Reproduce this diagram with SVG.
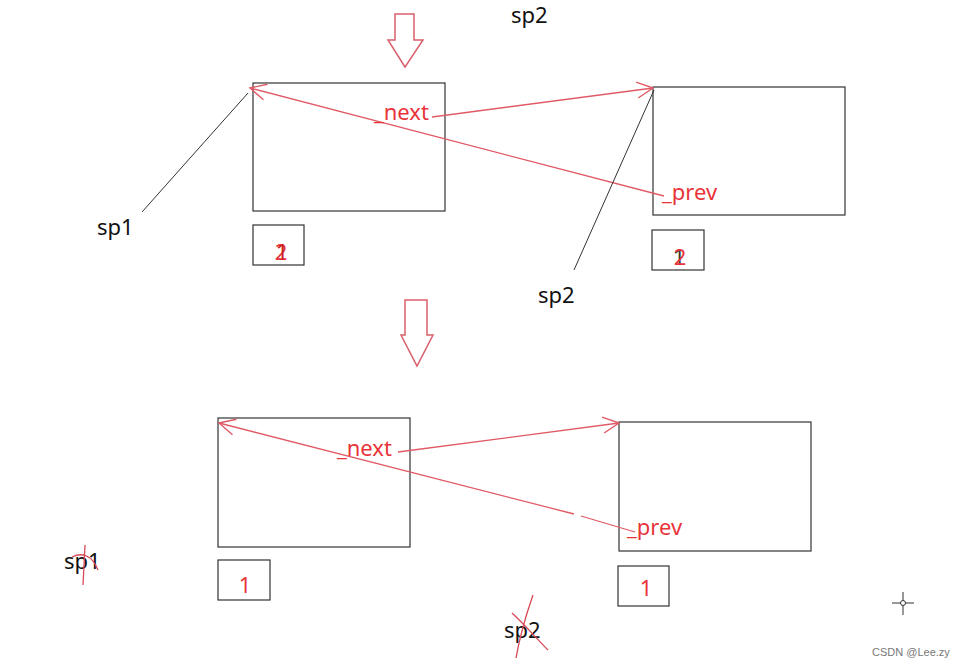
<svg xmlns="http://www.w3.org/2000/svg" width="963" height="668" viewBox="0 0 963 668">
<defs>
<style>
.box{fill:none;stroke:#333;stroke-width:1.2}
.lbl{font-family:"Noto Sans","Open Sans",sans-serif;font-size:22px;fill:#111}
.rlbl{font-family:"Noto Sans","Open Sans",sans-serif;font-size:22px;fill:#e8333a}
.num{font-family:"Noto Sans","Open Sans",sans-serif;font-size:22px;fill:#e8333a;text-anchor:middle}
.rl{fill:none;stroke:#e05a66;stroke-width:1.3}
.bl{fill:none;stroke:#333;stroke-width:1}
.big{fill:none;stroke:#d9606c;stroke-width:1.5}
.scr{fill:none;stroke:#d84a58;stroke-width:1.3}
</style>
<marker id="ah" viewBox="0 0 20 20" refX="18" refY="10" markerWidth="20" markerHeight="20" markerUnits="userSpaceOnUse" orient="auto">
<path d="M2,2 L18,10 L2,18" fill="none" stroke="#e05a66" stroke-width="1.4"/>
</marker>
</defs>
<rect width="963" height="668" fill="#fff"/>

<g id="arrow-top"><path class="big" d="M395,14 H414 V40 H423 L405,67 L388,40 H395 Z"/></g>
<g id="arrow-mid"><path class="big" d="M405,300 H427 V335 H433 L417,366 L401,335 H405 Z"/></g>

<g id="label-sp2-top"><text class="lbl" x="511" y="23">sp2</text></g>

<g id="nodeA"><rect class="box" x="253" y="83" width="192" height="128"/></g>
<g id="nodeB"><rect class="box" x="653" y="87" width="192" height="128"/></g>
<g id="valA"><rect class="box" x="253" y="225" width="51" height="40"/><text class="num" x="281" y="260">2</text><text class="num" x="282" y="260" style="fill:#c22">1</text></g>
<g id="valB"><rect class="box" x="652" y="230" width="52" height="40"/><text class="num" x="679" y="265" style="fill:#333">1</text><text class="num" x="680" y="265">2</text></g>

<g id="nodeC"><rect class="box" x="218" y="418" width="192" height="129"/></g>
<g id="nodeD"><rect class="box" x="619" y="422" width="192" height="129"/></g>
<g id="valC"><rect class="box" x="218" y="560" width="52" height="40"/><text class="num" x="245" y="593">1</text></g>
<g id="valD"><rect class="box" x="618" y="566" width="51" height="40"/><text class="num" x="646" y="596">1</text></g>

<g id="connectors">
<path class="rl" d="M432,117 L653,88" marker-end="url(#ah)"/>
<path class="rl" d="M664,196 L250,88" marker-end="url(#ah)"/>
<path class="bl" d="M142,212 L248,93"/>
<path class="bl" d="M574,270 L654,90"/>
<path class="rl" d="M398,452 L619,423" marker-end="url(#ah)"/>
<path class="rl" d="M574,514 L219,423" marker-end="url(#ah)"/>
<path class="rl" d="M581,516 L635,532"/>
</g>

<g id="labels">
<text class="rlbl" x="374" y="120">_next</text>
<text class="rlbl" x="662" y="200">_prev</text>
<text class="lbl" x="97" y="235">sp1</text>
<text class="lbl" x="538" y="303">sp2</text>
<text class="rlbl" x="337" y="456">_next</text>
<text class="rlbl" x="627" y="535">_prev</text>
<text class="lbl" x="64" y="569">sp1</text>
<text class="lbl" x="504" y="638">sp2</text>
</g>

<g id="scribbles">
<path class="scr" d="M85,545 L83,585"/>
<path class="scr" d="M72,557 C82,552 92,555 98,570"/>
<path class="scr" d="M533,595 C526,615 520,635 516,658"/>
<path class="scr" d="M512,613 C525,625 538,640 548,650"/>
</g>

<g id="cursor" stroke="#333" stroke-width="1" fill="none">
<path d="M903,592 V615 M892,603 H914"/>
<circle cx="903" cy="603" r="2.5" fill="#fff"/>
</g>
<text x="872" y="656" style="font-family:'Liberation Sans',Arial,sans-serif;font-size:11px;fill:#777">CSDN @Lee.zy</text>
</svg>
